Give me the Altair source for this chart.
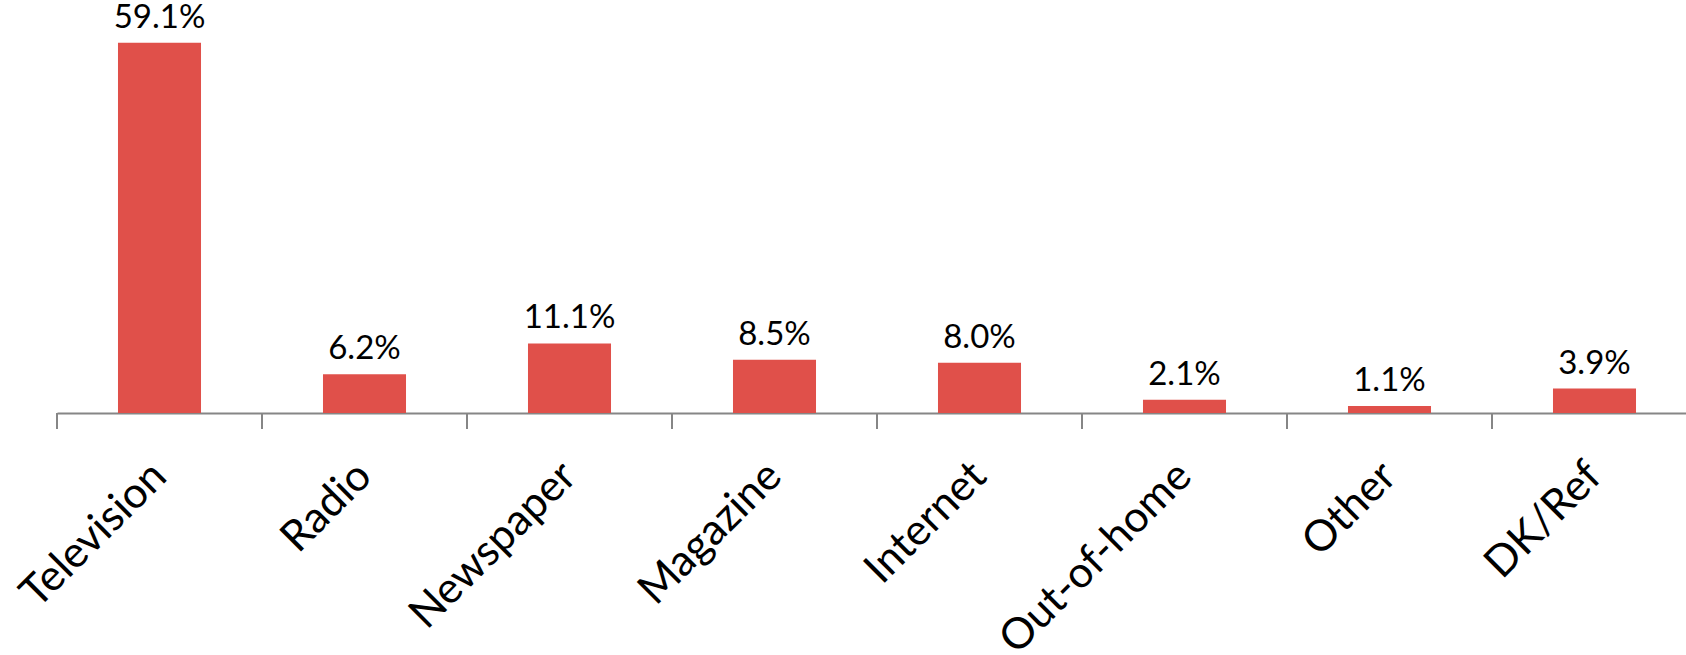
import altair as alt
import pandas as pd

categories = ["Television", "Radio", "Newspaper", "Magazine", "Internet", "Out-of-home", "Other", "DK/Ref"]
values = [59.1, 6.2, 11.1, 8.5, 8.0, 2.1, 1.1, 3.9]
labels = ["59.1%", "6.2%", "11.1%", "8.5%", "8.0%", "2.1%", "1.1%", "3.9%"]

df = pd.DataFrame({"cat": categories, "val": values, "lab": labels})

xscale = alt.Scale(type="band", paddingInner=0, paddingOuter=0, domain=categories,
                   range=[0, 1640])

x = alt.X("cat:N", sort=categories, title=None, scale=xscale,
          axis=alt.Axis(labelAngle=-45, labelFont="Lato", labelFontSize=43,
                        labelColor="#000000", labelPadding=40, labelLimit=0,
                        domainColor="#868686", domainWidth=2, tickOpacity=0,
                        tickSize=16, labelAlign="right", labelBaseline="middle"))
y = alt.Y("val:Q", title=None, scale=alt.Scale(domain=[0, 60], nice=False), axis=None)

bars = alt.Chart(df).mark_bar(color="#E0504A", width=alt.RelativeBandSize(0.405)).encode(x=x, y=y)
text = alt.Chart(df).mark_text(font="Lato", fontSize=33, dy=-8, baseline="bottom",
                                color="#000000").encode(
    x=alt.X("cat:N", sort=categories, scale=xscale), y="val:Q", text="lab:N")
ticks = alt.Chart(df).mark_rule(color="#868686", strokeWidth=2).encode(
    x=alt.X("cat:N", sort=categories, scale=xscale, bandPosition=0),
    y=alt.value(376), y2=alt.value(392))

chart = (bars + text + ticks).properties(
    width=1629, height=376,
    autosize=alt.AutoSizeParams(type="none"),
    padding={"left": 57, "top": 37, "right": 0, "bottom": 242},
).configure_view(stroke=None)

chart.save("out.html", embed_options={"renderer": "svg", "actions": False})
